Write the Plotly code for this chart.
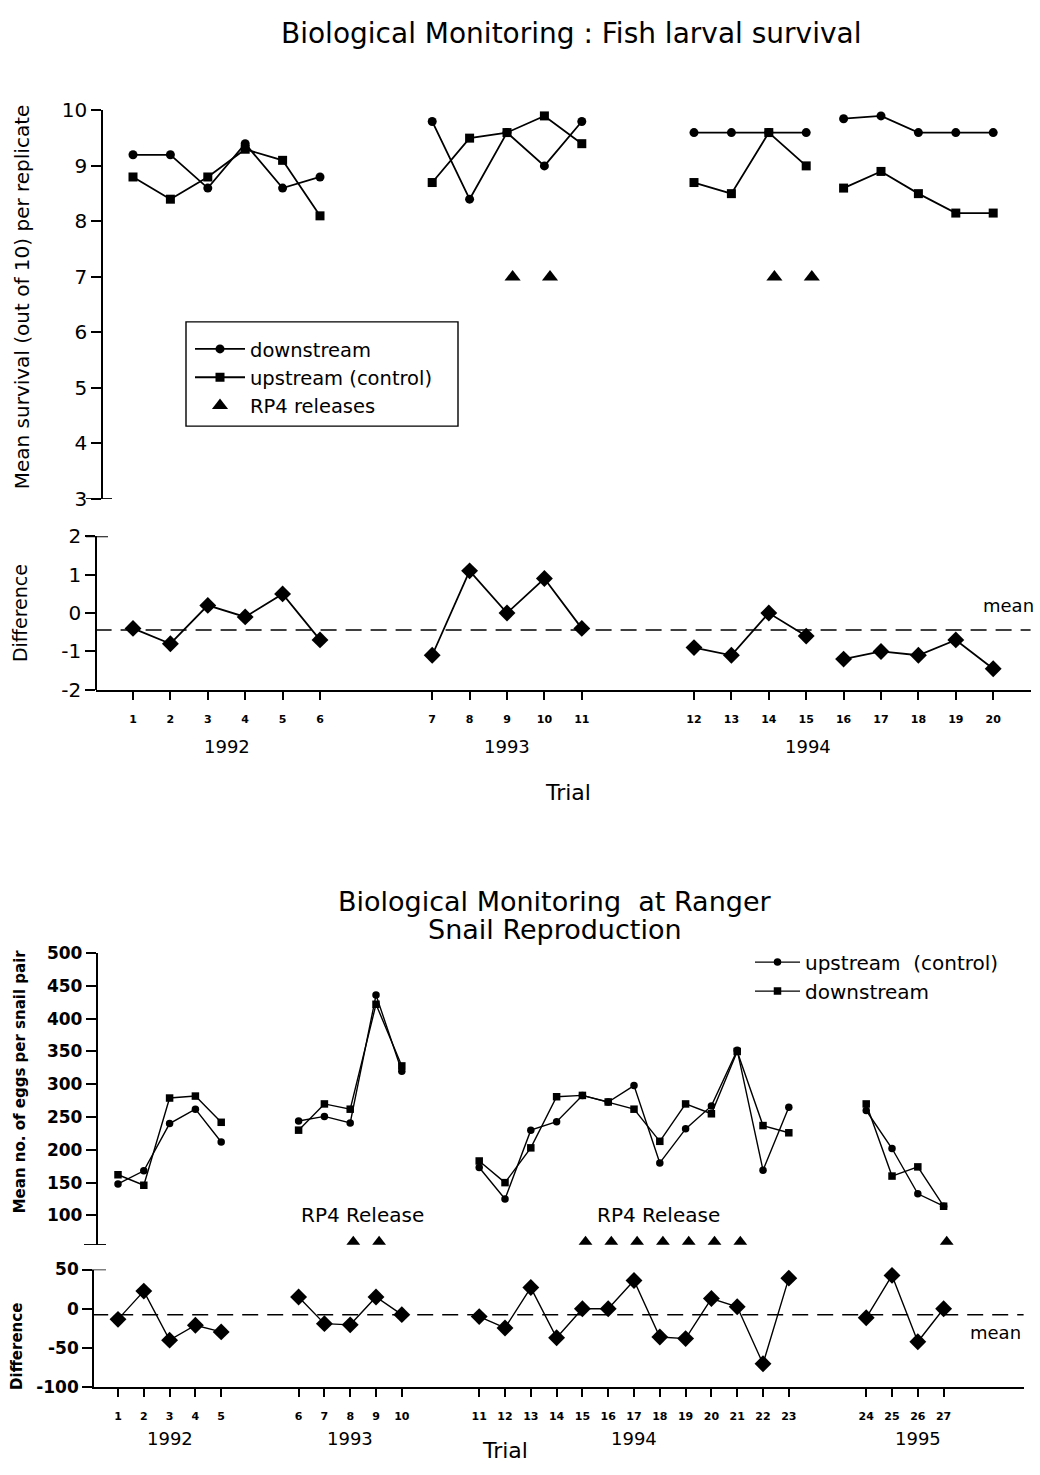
import plotly.graph_objects as go

W, H = 1040, 1475
FONT = "DejaVu Sans"

# ---------------- Fish larval survival data ----------------
fish_trial = list(range(1, 21))
fish_year = [1992] * 6 + [1993] * 5 + [1994] * 9
fish_segment = [1] * 6 + [2] * 5 + [3] * 4 + [4] * 5
fish_downstream = [9.2, 9.2, 8.6, 9.4, 8.6, 8.8,
                   9.8, 8.4, 9.6, 9.0, 9.8,
                   9.6, 9.6, 9.6, 9.6,
                   9.85, 9.9, 9.6, 9.6, 9.6]
fish_upstream = [8.8, 8.4, 8.8, 9.3, 9.1, 8.1,
                 8.7, 9.5, 9.6, 9.9, 9.4,
                 8.7, 8.5, 9.6, 9.0,
                 8.6, 8.9, 8.5, 8.15, 8.15]
fish_difference = [-0.4, -0.8, 0.2, -0.1, 0.5, -0.7,
                   -1.1, 1.1, 0.0, 0.9, -0.4,
                   -0.9, -1.1, 0.0, -0.6,
                   -1.2, -1.0, -1.1, -0.7, -1.45]
fish_release_trials = [9, 10, 14, 15]
fish_release_years = [1993, 1993, 1994, 1994]
fish_release_level = 7
fish_year_labels = ["1992", "1993", "1994"]
fish_year_label_trials = [3.5, 9, 15.05]
fish_year_label_years = [1992, 1993, 1994]
fish_y_ticks = [3, 4, 5, 6, 7, 8, 9, 10]
fish_diff_ticks = [-2, -1, 0, 1, 2]

# ---------------- Snail reproduction data ----------------
snail_trial = list(range(1, 28))
snail_year = [1992] * 5 + [1993] * 5 + [1994] * 13 + [1995] * 4
snail_upstream = [148, 168, 240, 262, 212,
                  244, 251, 241, 436, 320,
                  173, 125, 230, 243, 283, 273, 298, 180, 232, 267, 352, 169, 265,
                  260, 202, 133, 114]
snail_downstream = [162, 146, 279, 282, 242,
                    230, 270, 262, 422, 328,
                    183, 150, 203, 281, 283, 273, 262, 213, 270, 255, 350, 237, 226,
                    270, 160, 174, 114]
snail_difference = [-13.5, 22.5, -40, -21, -29.5,
                    15, -19, -20.5, 15, -7.5,
                    -10, -24.5, 27, -37, 0, 0, 36, -36, -38, 13, 2.5, -70, 39,
                    -11.5, 42.5, -42, 0]
snail_release_trials = [8, 9, 15, 16, 17, 18, 19, 20, 21, 27]
snail_release_years = [1993, 1993, 1994, 1994, 1994, 1994, 1994, 1994, 1994, 1995]
snail_release_level = 60
snail_year_labels = ["1992", "1993", "1994", "1995"]
snail_year_label_trials = [3, 8, 17, 26]
snail_year_label_years = [1992, 1993, 1994, 1995]
snail_y_ticks = [100, 150, 200, 250, 300, 350, 400, 450, 500]
snail_diff_ticks = [-100, -50, 0, 50]


def px(x):
    return x / W


def py(y):
    return 1 - y / H


def slot(trial, year, first=1992, gap=2):
    return trial + gap * (year - first)


def gapped(xs, ys, segs):
    ox, oy, prev = [], [], None
    for x, y, s in zip(xs, ys, segs):
        if prev is not None and s != prev:
            ox.append(None)
            oy.append(None)
        ox.append(x)
        oy.append(y)
        prev = s
    return ox, oy


fish_x = [slot(t, y) for t, y in zip(fish_trial, fish_year)]
snail_x = [slot(t, y) for t, y in zip(snail_trial, snail_year)]
fish_rel_x = [slot(t, y) + 0.15 for t, y in zip(fish_release_trials, fish_release_years)]
snail_rel_x = [slot(t, y) + 0.12 for t, y in zip(snail_release_trials, snail_release_years)]

fish_mean = sum(fish_difference) / len(fish_difference)
snail_mean = sum(snail_difference) / len(snail_difference)

fig = go.Figure()

LW = 1.8
# ---- top upper panel
xs, ys = gapped(fish_x, fish_downstream, fish_segment)
fig.add_trace(go.Scatter(x=xs, y=ys, mode="lines+markers", name="downstream",
                         line=dict(color="black", width=LW),
                         marker=dict(symbol="circle", size=9, color="black"),
                         xaxis="x", yaxis="y", legend="legend", cliponaxis=False))
xs, ys = gapped(fish_x, fish_upstream, fish_segment)
fig.add_trace(go.Scatter(x=xs, y=ys, mode="lines+markers", name="upstream (control)",
                         line=dict(color="black", width=LW),
                         marker=dict(symbol="square", size=9, color="black"),
                         xaxis="x", yaxis="y", legend="legend", cliponaxis=False))
fig.add_trace(go.Scatter(x=fish_rel_x, y=[fish_release_level] * len(fish_rel_x),
                         mode="markers", name="RP4 releases",
                         marker=dict(symbol="triangle-up", size=14, color="black"),
                         xaxis="x", yaxis="y", legend="legend", cliponaxis=False))
# ---- top lower panel
xs, ys = gapped(fish_x, fish_difference, fish_segment)
fig.add_trace(go.Scatter(x=xs, y=ys, mode="lines+markers", showlegend=False,
                         line=dict(color="black", width=LW),
                         marker=dict(symbol="diamond", size=13, color="black"),
                         xaxis="x2", yaxis="y2", cliponaxis=False))

# ---- bottom upper panel
xs, ys = gapped(snail_x, snail_upstream, snail_year)
fig.add_trace(go.Scatter(x=xs, y=ys, mode="lines+markers", name="upstream\u00a0 (control)",
                         line=dict(color="black", width=1.4),
                         marker=dict(symbol="circle", size=7.5, color="black"),
                         xaxis="x3", yaxis="y3", legend="legend2", cliponaxis=False))
xs, ys = gapped(snail_x, snail_downstream, snail_year)
fig.add_trace(go.Scatter(x=xs, y=ys, mode="lines+markers", name="downstream",
                         line=dict(color="black", width=1.4),
                         marker=dict(symbol="square", size=7.5, color="black"),
                         xaxis="x3", yaxis="y3", legend="legend2", cliponaxis=False))
fig.add_trace(go.Scatter(x=snail_rel_x, y=[snail_release_level] * len(snail_rel_x),
                         mode="markers", showlegend=False,
                         marker=dict(symbol="triangle-up", size=12, color="black"),
                         xaxis="x3", yaxis="y3", cliponaxis=False))
# ---- bottom lower panel
xs, ys = gapped(snail_x, snail_difference, snail_year)
fig.add_trace(go.Scatter(x=xs, y=ys, mode="lines+markers", showlegend=False,
                         line=dict(color="black", width=1.4),
                         marker=dict(symbol="diamond", size=13, color="black"),
                         xaxis="x4", yaxis="y4", cliponaxis=False))

# ---------------- axes ----------------
top_xdom = [px(95.6), px(1030.6)]
top_xrange = [0, 25]
bot_xdom = [px(92.2), px(1023.6)]
bot_xrange = [0, 36.1]

axis_common = dict(showgrid=False, zeroline=False, linecolor="black", linewidth=1.7,
                   tickcolor="black", tickwidth=1.5, color="black")


def labels(vals):
    return [str(v) for v in vals]


layout = dict(
    width=W, height=H, margin=dict(l=0, r=0, t=0, b=0),
    paper_bgcolor="white", plot_bgcolor="white",
    font=dict(family=FONT, color="black"),
    xaxis=dict(domain=top_xdom, range=top_xrange, visible=False, anchor="y"),
    yaxis=dict(domain=[py(495), py(100)], range=[3, 10], anchor="free", position=px(102),
               tickvals=fish_y_ticks, ticktext=labels(fish_y_ticks),
               ticks="outside", ticklen=10, showline=True,
               tickfont=dict(size=20, family=FONT), **axis_common),
    xaxis2=dict(domain=top_xdom, range=top_xrange, anchor="y2", showline=True,
                tickvals=fish_x, ticktext=labels(fish_trial),
                ticks="outside", ticklen=8, ticklabelstandoff=10,
                tickfont=dict(size=11, family=FONT, weight="bold"), **axis_common),
    yaxis2=dict(domain=[py(689), py(533)], range=[-2, 2], anchor="free", position=px(96),
                tickvals=fish_diff_ticks, ticktext=labels(fish_diff_ticks),
                ticks="outside", ticklen=10, showline=True,
                tickfont=dict(size=20, family=FONT), **axis_common),
    xaxis3=dict(domain=bot_xdom, range=bot_xrange, visible=False, anchor="y3"),
    yaxis3=dict(domain=[py(1253.3), py(956.7)], range=[55, 500], anchor="free", position=px(96.7),
                tickvals=snail_y_ticks, ticktext=labels(snail_y_ticks),
                ticks="outside", ticklen=10, showline=True,
                tickfont=dict(size=17, family=FONT, weight="bold"), **axis_common),
    xaxis4=dict(domain=bot_xdom, range=bot_xrange, anchor="y4", showline=True,
                tickvals=snail_x, ticktext=labels(snail_trial),
                ticks="outside", ticklen=8, ticklabelstandoff=10,
                tickfont=dict(size=11, family=FONT, weight="bold"), **axis_common),
    yaxis4=dict(domain=[py(1398), py(1278.3)], range=[-100, 50], anchor="free", position=px(93),
                tickvals=snail_diff_ticks, ticktext=labels(snail_diff_ticks),
                ticks="outside", ticklen=10, showline=True,
                tickfont=dict(size=17, family=FONT, weight="bold"), **axis_common),
    legend=dict(x=px(190), y=py(323), xanchor="left", yanchor="top",
                bgcolor="rgba(0,0,0,0)", borderwidth=0, itemwidth=50,
                font=dict(size=19.5, family=FONT), tracegroupgap=0),
    legend2=dict(x=px(750), y=py(946), xanchor="left", yanchor="top",
                 bgcolor="rgba(0,0,0,0)", borderwidth=0, itemwidth=45,
                 font=dict(size=20, family=FONT), tracegroupgap=0),
)
fig.update_layout(**layout)

# ---------------- shapes ----------------
shapes = [
    # legend box (top chart)
    dict(type="rect", xref="paper", yref="paper", x0=px(186), x1=px(458), y0=py(421), y1=py(315),
         line=dict(color="black", width=1.4)),
    # mean lines
    dict(type="line", xref="x2 domain", yref="y2", x0=0, x1=1, y0=fish_mean, y1=fish_mean,
         line=dict(color="black", width=1.5, dash="16px,9px")),
    dict(type="line", xref="x4 domain", yref="y4", x0=0, x1=1, y0=snail_mean, y1=snail_mean,
         line=dict(color="black", width=1.5, dash="16px,9px")),
    # end ticks crossing the axes at panel breaks
    dict(type="line", xref="paper", yref="y", x0=px(86), x1=px(112), y0=3, y1=3,
         line=dict(color="black", width=1.7)),
    dict(type="line", xref="paper", yref="y2", x0=px(86), x1=px(108), y0=2, y1=2,
         line=dict(color="black", width=1.7)),
    dict(type="line", xref="paper", yref="y3", x0=px(84), x1=px(106), y0=55, y1=55,
         line=dict(color="black", width=1.7)),
    dict(type="line", xref="paper", yref="y4", x0=px(84), x1=px(106), y0=50, y1=50,
         line=dict(color="black", width=1.7)),
]
fig.update_layout(shapes=shapes)

# ---------------- annotations ----------------
ann = []


def text(x, y, s, size, xref="paper", yref="paper", angle=0, weight="normal", xanchor="center"):
    ann.append(dict(x=x, y=y, xref=xref, yref=yref, text=s, showarrow=False, textangle=angle,
                    xanchor=xanchor, yanchor="middle",
                    font=dict(size=size, family=FONT, color="black", weight=weight)))


text(px(571), py(22), "Biological Monitoring : Fish larval survival", 28)
text(px(22), py(290), "Mean survival (out of 10) per replicate", 20, angle=-90)
text(px(20), py(611), "Difference", 19, angle=-90)
text(px(1008), py(603), "mean", 18)
for lab, t, yr in zip(fish_year_labels, fish_year_label_trials, fish_year_label_years):
    text(slot(t, yr), py(747), lab, 18, xref="x2")
text(px(568), py(793), "Trial", 22)

text(px(555), py(904), "Biological Monitoring\u00a0 at Ranger", 27)
text(px(555), py(933), "Snail Reproduction", 27)
text(px(20), py(1087), "Mean no. of eggs per snail pair", 15, angle=-90, weight="bold")
text(px(17), py(1357), "Difference", 15, angle=-90, weight="bold")
text(slot(8.46, 1993), 100, "RP4 Release", 20, xref="x3", yref="y3")
text(slot(17.93, 1994), 100, "RP4 Release", 20, xref="x3", yref="y3")
text(px(995), py(1342), "mean", 18)
for lab, t, yr in zip(snail_year_labels, snail_year_label_trials, snail_year_label_years):
    text(slot(t, yr), py(1450), lab, 18, xref="x4")
text(px(505), py(1462), "Trial", 22)

fig.update_layout(annotations=ann)

# the page's default 8px body margin would push the 1040x1475 figure off the window
fig.write_html("out.html", post_script="document.body.style.margin='0px';",
               config={"displayModeBar": False})
